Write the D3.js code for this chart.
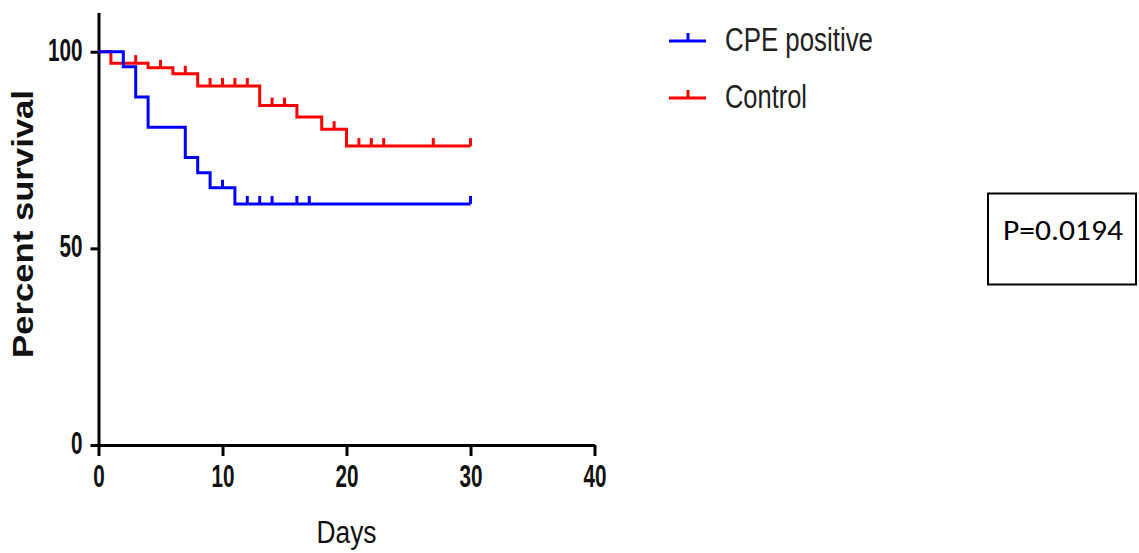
<!DOCTYPE html>
<html>
<head>
<meta charset="utf-8">
<script src="https://cdn.jsdelivr.net/npm/d3@7"></script>
<style>
  html, body { margin: 0; padding: 0; background: #fff; }
  svg { display: block; }
</style>
</head>
<body>
<svg id="chart" width="1139" height="553"></svg>
<script>
// ---- data ----
const seriesNames = ["CPE positive", "Control"];
const seriesColors = ["#0000ff", "#ff0000"];

// CPE positive: step times (days) and survival (%)
const cpeDays = [0, 2, 3, 4, 7, 8, 9, 11, 30];
const cpeSurvival = [100, 96.2, 88.5, 80.8, 73.1, 69.2, 65.4, 61.3, 61.3];
const cpeCensored = [10, 12, 13, 14, 16, 17, 30];

// Control
const ctlDays = [0, 1, 4, 6, 8, 13, 16, 18, 20, 30];
const ctlSurvival = [100, 97.1, 95.9, 94.4, 91.3, 86.3, 83.4, 80.3, 76.0, 76.0];
const ctlCensored = [3, 5, 7, 9, 10, 11, 12, 14, 15, 19, 21, 22, 23, 27, 30];

const xTicks = [0, 10, 20, 30, 40];
const yTicks = [0, 50, 100];
const xTitle = "Days";
const yTitle = "Percent survival";
const pText = "P=0.0194";

// ---- drawing ----
const svg = d3.select("#chart");
const x = d3.scaleLinear().domain([0, 40]).range([98.5, 594.5]);
const y = d3.scaleLinear().domain([0, 110]).range([445, 12.4]);

const series = [
  { name: seriesNames[0], color: seriesColors[0], days: cpeDays, surv: cpeSurvival, cens: cpeCensored },
  { name: seriesNames[1], color: seriesColors[1], days: ctlDays, surv: ctlSurvival, cens: ctlCensored }
];

const font = "'Liberation Sans', Arial, Helvetica, sans-serif";

// axes
const yAxis = svg.append("g").attr("transform", `translate(${x(0)},0)`)
  .call(d3.axisLeft(y).tickValues(yTicks).tickSizeOuter(0).tickSizeInner(8).tickPadding(8));
const xAxis = svg.append("g").attr("transform", `translate(0,${y(0)})`)
  .call(d3.axisBottom(x).tickValues(xTicks).tickSizeOuter(0).tickSizeInner(11).tickPadding(9));

[yAxis, xAxis].forEach(g => {
  g.select(".domain").attr("stroke", "#000").attr("stroke-width", 3);
  g.selectAll(".tick line").attr("stroke", "#000").attr("stroke-width", 3);
  g.selectAll(".tick text")
    .attr("fill", "#111")
    .style("font-family", font)
    .style("font-weight", "bold")
    .style("font-size", "31px")
    .attr("lengthAdjust", "spacingAndGlyphs")
    .attr("textLength", d => String(d).length * 11.5);
});
yAxis.selectAll(".tick text").attr("dy", "0.34em").attr("y", -2);
xAxis.selectAll(".tick text").attr("dy", "0.71em");

// curves (control first so CPE lies on top)
const line = d3.line().curve(d3.curveStepAfter).x(d => x(d[0])).y(d => y(d[1]));
const plot = svg.append("g");
[series[1], series[0]].forEach(s => {
  const pts = s.days.map((d, i) => [d, s.surv[i]]);
  plot.append("path")
    .attr("d", line(pts))
    .attr("fill", "none")
    .attr("stroke", s.color)
    .attr("stroke-width", 3)
    .attr("stroke-linejoin", "miter");
  const survAt = t => s.surv[Math.max(0, d3.bisectRight(s.days, t) - 1)];
  plot.selectAll(null).data(s.cens).enter().append("line")
    .attr("x1", d => x(d)).attr("x2", d => x(d))
    .attr("y1", d => y(survAt(d)))
    .attr("y2", d => y(survAt(d)) - 8)
    .attr("stroke", s.color)
    .attr("stroke-width", 3);
});

// axis titles
svg.append("text")
  .attr("transform", `translate(33,224) rotate(-90)`)
  .attr("text-anchor", "middle")
  .style("font-family", font).style("font-weight", "bold").style("font-size", "30px")
  .attr("fill", "#111")
  .attr("textLength", 268).attr("lengthAdjust", "spacingAndGlyphs")
  .text(yTitle);

svg.append("text")
  .attr("x", (x(0) + x(40)) / 2).attr("y", 543)
  .attr("text-anchor", "middle")
  .style("font-family", font).style("font-size", "31px")
  .attr("fill", "#111")
  .attr("textLength", 60).attr("lengthAdjust", "spacingAndGlyphs")
  .text(xTitle);

// legend
const legend = svg.append("g");
const legendRows = [{ y: 41, base: 51, w: 148 }, { y: 98, base: 108, w: 82 }];
series.forEach((s, i) => {
  const r = legendRows[i];
  legend.append("line").attr("x1", 669).attr("x2", 706).attr("y1", r.y).attr("y2", r.y)
    .attr("stroke", s.color).attr("stroke-width", 3);
  legend.append("line").attr("x1", 688).attr("x2", 688).attr("y1", r.y).attr("y2", r.y - 8)
    .attr("stroke", s.color).attr("stroke-width", 3);
  legend.append("text").attr("x", 725).attr("y", r.base)
    .style("font-family", font).style("font-size", "33px").attr("fill", "#222")
    .attr("textLength", r.w).attr("lengthAdjust", "spacingAndGlyphs")
    .text(s.name);
});

// p-value box
svg.append("rect").attr("x", 988).attr("y", 193.5).attr("width", 148).attr("height", 91)
  .attr("fill", "none").attr("stroke", "#000").attr("stroke-width", 2);
svg.append("text").attr("x", 1003).attr("y", 240)
  .style("font-family", "Carlito, 'Open Sans', 'Liberation Sans', sans-serif").style("font-size", "28px")
  .attr("fill", "#000")
  .attr("textLength", 120).attr("lengthAdjust", "spacingAndGlyphs")
  .text(pText);
</script>
</body>
</html>
